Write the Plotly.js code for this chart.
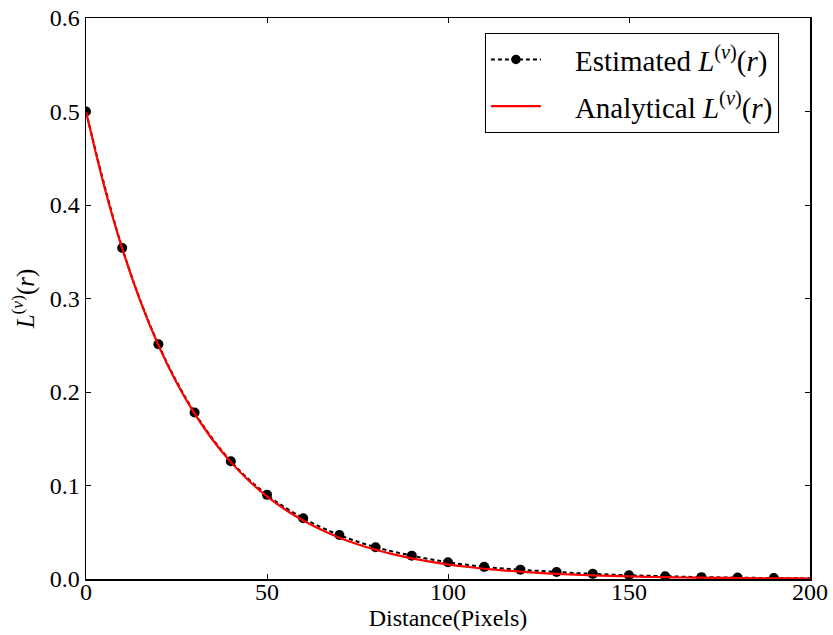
<!DOCTYPE html>
<html>
<head>
<meta charset="utf-8">
<script src="https://cdn.plot.ly/plotly-3.0.1.min.js"></script>
<style>html,body{margin:0;padding:0;background:#fff;}#chart{width:833px;height:635px;}</style>
</head>
<body>
<div id="chart"></div>
<script>
// Estimated L^(v)(r), markers every 10 pixels
const estX = [0,10,20,30,40,50,60,70,80,90,100,110,120,130,140,150,160,170,180,190,200];
const estY = [0.500,0.354,0.251,0.178,0.126,0.090,0.065,0.047,0.034,0.025,0.018,0.013,0.010,0.0075,0.0055,0.004,0.003,0.002,0.0015,0.001,0.0008];
// Analytical L^(v)(r), every 5 pixels
const anaX = [0,5,10,15,20,25,30,35,40,45,50,55,60,65,70,75,80,85,90,95,100,105,110,115,120,125,130,135,140,145,150,155,160,165,170,175,180,185,190,195,200];
const anaY = [0.5,0.4204,0.3536,0.2973,0.25,0.2102,0.1768,0.1487,0.125,0.1051,0.0884,0.0743,0.0625,0.0526,0.0442,0.0372,0.03125,0.0263,0.0221,0.0186,0.0156,0.0131,0.0110,0.0093,0.0078,0.0066,0.0055,0.0046,0.0039,0.0033,0.0028,0.0023,0.0020,0.0016,0.0014,0.0012,0.0010,0.0008,0.0007,0.0006,0.0005];
const xTicks = [0,50,100,150,200];
const yTicks = [0.0,0.1,0.2,0.3,0.4,0.5,0.6];
const names = ['&#160;&#160;&#160;&#160;Estimated <i>L</i><sup>(<i>v</i>)</sup>(<i>r</i>)', '&#160;&#160;&#160;&#160;Analytical <i>L</i><sup>(<i>v</i>)</sup>(<i>r</i>)'];

const markerSizes = estX.map((x,i)=> i === estX.length-1 ? 0 : 10);

const traces = [
  {x: estX, y: estY, name: names[0], legendgroup: 'a', mode: 'lines+markers', type: 'scatter',
   line: {color: '#000000', width: 2, dash: '4px,3px', shape: 'spline'},
   marker: {color: '#000000', opacity: 1, size: markerSizes, symbol: 'circle', line: {width: 0, color: '#000000'}}},
  {x: anaX, y: anaY, name: names[1], legendgroup: 'b', mode: 'lines', type: 'scatter',
   line: {color: '#ff0000', width: 2.2, shape: 'spline'}}
];

const font = '"Liberation Serif", "Times New Roman", Times, serif';
const layout = {
  width: 833, height: 635,
  margin: {l: 86, r: 23, t: 18, b: 56},
  paper_bgcolor: '#fff', plot_bgcolor: '#fff',
  font: {family: font, color: '#000', size: 24},
  showlegend: true,
  legend: {x: 0.551, y: 0.973, xanchor: 'left', yanchor: 'top',
    bordercolor: '#000', borderwidth: 1, bgcolor: '#fff',
    font: {family: font, size: 29, color: '#000'}, itemwidth: 50, tracegroupgap: 6},
  xaxis: {range: [0, 200], tickvals: xTicks, ticktext: xTicks.map(String),
    ticks: 'inside', ticklen: 5, tickwidth: 1, tickcolor: '#000',
    showline: true, linecolor: '#000', linewidth: 1.5, mirror: 'ticks',
    showgrid: false, zeroline: false, ticklabelstandoff: -9,
    tickfont: {family: font, size: 24},
    title: {text: 'Distance(Pixels)', font: {family: font, size: 24}, standoff: 1}},
  yaxis: {range: [0, 0.6], tickvals: yTicks, ticktext: yTicks.map(v=>v.toFixed(1)),
    ticks: 'inside', ticklen: 5, tickwidth: 1, tickcolor: '#000',
    showline: true, linecolor: '#000', linewidth: 1.5, mirror: 'ticks',
    showgrid: false, zeroline: false,
    tickfont: {family: font, size: 24},
    title: {text: '<i>L</i><sup>(<i>v</i>)</sup>(<i>r</i>)', font: {family: font, size: 25}, standoff: 8}}
};
Plotly.newPlot('chart', traces, layout, {displayModeBar: false, staticPlot: true});
</script>
</body>
</html>
